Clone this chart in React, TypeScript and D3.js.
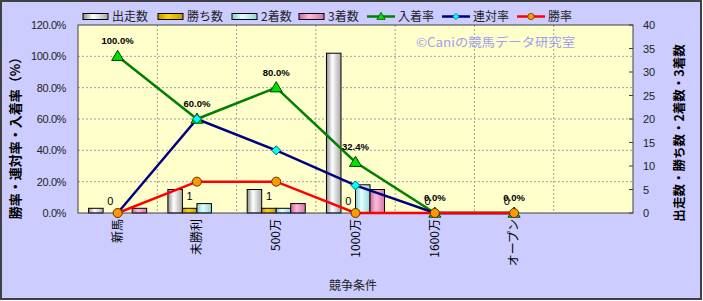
import React from "react";
import * as d3 from "d3";

const categories = ["新馬", "未勝利", "500万", "1000万", "1600万", "オープン", ""];
const starters = [1, 5, 5, 34, 0, 0];
const wins = [0, 1, 1, 0, 0, 0];
const seconds = [0, 2, 1, 6, 0, 0];
const thirds = [1, 0, 2, 5, 0, 0];
const placeRate = [100, 60, 80, 32.4, 0, 0];
const rentaiRate = [0, 60, 40, 17.6, 0, 0];
const winRate = [0, 20, 20, 0, 0, 0];
const leftTicks = [0, 20, 40, 60, 80, 100, 120];
const rightTicks = [0, 5, 10, 15, 20, 25, 30, 35, 40];
const barSeriesNames = ["出走数", "勝ち数", "2着数", "3着数"];
const lineSeriesNames = ["入着率", "連対率", "勝率"];

const W = 703, H = 301;
const X0 = 78, X1 = 633, Y0 = 25, Y1 = 213;
const FONT = "'Liberation Sans', 'Noto Sans CJK JP', sans-serif";
const JFONT = "'Noto Sans CJK JP', sans-serif";

const barGrads = [
  { id: "g0", stops: ["#8e8e8e", "#ffffff", "#a8a8a8"] },
  { id: "g1", stops: ["#c09000", "#ffd700", "#c89a00"] },
  { id: "g2", stops: ["#7fcccc", "#e6ffff", "#8fd6d6"] },
  { id: "g3", stops: ["#c86a9c", "#ffb8dc", "#d07aa8"] },
];
const lineColors = ["#008000", "#000080", "#ff0000"];
const markerFills = ["#00e000", "#00ffff", "#ff9900"];

function Marker({ type, x, y }: { type: number; x: number; y: number }) {
  if (type === 0) {
    const s = 6;
    return (
      <path
        d={`M${x},${y - s} L${x + s},${y + s * 0.7} L${x - s},${y + s * 0.7} Z`}
        fill={markerFills[0]}
        stroke="#004000"
        strokeWidth={1}
      />
    );
  }
  if (type === 1) {
    const s = 4.5;
    return (
      <path
        d={`M${x},${y - s} L${x + s},${y} L${x},${y + s} L${x - s},${y} Z`}
        fill={markerFills[1]}
        stroke="#006060"
        strokeWidth={1}
      />
    );
  }
  return <circle cx={x} cy={y} r={4.5} fill={markerFills[2]} stroke="#603000" strokeWidth={1} />;
}

export default function App() {
  const x = d3.scaleBand<number>().domain(d3.range(categories.length)).range([X0, X1]).paddingInner(0).paddingOuter(0);
  const inner = d3.scaleBand<number>().domain([0, 1, 2, 3]).range([0, x.bandwidth()]).paddingInner(0).paddingOuter(0.73);
  const yL = d3.scaleLinear().domain([0, 120]).range([Y1, Y0]);
  const yR = d3.scaleLinear().domain([0, 40]).range([Y1, Y0]);
  const cx = (i: number) => (x(i) as number) + x.bandwidth() / 2;

  const barSeries = [starters, wins, seconds, thirds];
  const lineSeries = [placeRate, rentaiRate, winRate];
  const lineGen = d3.line<number>().x((_, i) => cx(i)).y((v) => yL(v));

  const legendX = [83, 158, 232, 299, 367, 442, 517];

  return (
    <svg width={W} height={H} style={{ position: "absolute", left: 0, top: 0 }} fontFamily={FONT}>
      <defs>
        {barGrads.map((g) => (
          <linearGradient key={g.id} id={g.id} x1="0" x2="1" y1="0" y2="0">
            <stop offset="0" stopColor={g.stops[0]} />
            <stop offset="0.4" stopColor={g.stops[1]} />
            <stop offset="1" stopColor={g.stops[2]} />
          </linearGradient>
        ))}
      </defs>
      <rect x={1} y={1} width={700} height={298} fill="#ccccff" stroke="#404040" strokeWidth={2} />
      <rect x={X0} y={Y0} width={X1 - X0} height={Y1 - Y0} fill="#ffffcc" />
      {/* grid */}
      {leftTicks.slice(1, -1).map((t) => (
        <line key={"h" + t} x1={X0} x2={X1} y1={yL(t)} y2={yL(t)} stroke="#a0a0a0" strokeDasharray="2,2" />
      ))}
      {d3.range(1, categories.length).map((i) => (
        <line key={"v" + i} x1={x(i)} x2={x(i)} y1={Y0} y2={Y1} stroke="#a0a0a0" strokeDasharray="2,2" />
      ))}
      <text x={416} y={47} fontFamily={JFONT} fontSize={12.5} fill="#a0a0f0" textLength={159} lengthAdjust="spacingAndGlyphs">
        ©Caniの競馬データ研究室
      </text>
      {/* bars */}
      {barSeries.map((vals, s) =>
        vals.map((v, i) =>
          v > 0 ? (
            <rect
              key={`b${s}-${i}`}
              x={(x(i) as number) + (inner(s) as number)}
              y={yR(v)}
              width={inner.bandwidth()}
              height={Y1 - yR(v)}
              fill={`url(#${barGrads[s].id})`}
              stroke="#000"
              strokeWidth={1}
            />
          ) : null
        )
      )}
      {/* plot border */}
      <rect x={X0} y={Y0} width={X1 - X0} height={Y1 - Y0} fill="none" stroke="#404040" strokeWidth={1} />
      {rightTicks.map((t) => (
        <line key={"rt" + t} x1={X1 - 4} x2={X1} y1={yR(t)} y2={yR(t)} stroke="#404040" />
      ))}
      {/* lines */}
      {lineSeries.map((vals, s) => (
        <path key={"l" + s} d={lineGen(vals) as string} fill="none" stroke={lineColors[s]} strokeWidth={2.5} />
      ))}
      {lineSeries.map((vals, s) => vals.map((v, i) => <Marker key={`m${s}-${i}`} type={s} x={cx(i)} y={yL(v)} />))}
      {/* labels */}
      {placeRate.map((v, i) => (
        <text key={"pl" + i} x={cx(i)} y={yL(v) - 12} fontSize={9.5} fontWeight="bold" textAnchor="middle" fill="#000">
          {v.toFixed(1) + "%"}
        </text>
      ))}
      {wins.map((v, i) => (
        <text
          key={"wl" + i}
          x={(x(i) as number) + (inner(1) as number) + inner.bandwidth() / 2}
          y={yR(v) - 8}
          fontSize={11}
          textAnchor="middle"
          fill="#000"
        >
          {v}
        </text>
      ))}
      {/* axes labels */}
      {leftTicks.map((t) => (
        <text key={"lt" + t} x={66} y={yL(t) + 4} fontSize={11} letterSpacing={-0.4} textAnchor="end" fill="#222">
          {t.toFixed(1) + "%"}
        </text>
      ))}
      {rightTicks.map((t) => (
        <text key={"rl" + t} x={643} y={yR(t) + 4} fontSize={11} fill="#222">
          {t}
        </text>
      ))}
      {categories.map((c, i) => (
        <text
          key={"c" + i}
          transform={`translate(${cx(i) + 4},${Y1 + 6}) rotate(-90)`}
          fontSize={12}
          fontFamily={JFONT}
          textAnchor="end"
          fill="#000"
        >
          {c}
        </text>
      ))}
      <text x={353} y={290} fontSize={12} fontFamily={JFONT} textAnchor="middle" fill="#222">
        競争条件
      </text>
      <text
        transform={`translate(20,135) rotate(-90)`}
        fontSize={13}
        fontWeight="bold"
        fontFamily={JFONT}
        textAnchor="middle"
        fill="#000"
      >
        勝率・連対率・入着率（%）
      </text>
      <text
        transform={`translate(684,133) rotate(-90)`}
        fontSize={12.5}
        fontWeight="bold"
        fontFamily={JFONT}
        textAnchor="middle"
        fill="#000"
      >
        出走数・勝ち数・2着数・3着数
      </text>
      {/* legend */}
      {barSeriesNames.map((n, s) => (
        <g key={"lg" + s}>
          <rect x={legendX[s]} y={13.5} width={25} height={6} fill={`url(#${barGrads[s].id})`} stroke="#000" strokeWidth={1} />
          <text x={legendX[s] + 29} y={21} fontSize={12} fontFamily={JFONT} fill="#222">
            {n}
          </text>
        </g>
      ))}
      {lineSeriesNames.map((n, s) => (
        <g key={"ll" + s}>
          <line x1={legendX[4 + s]} x2={legendX[4 + s] + 28} y1={16.5} y2={16.5} stroke={lineColors[s]} strokeWidth={2.5} />
          <g transform={`translate(${legendX[4 + s] + 14},16.5) scale(0.7) translate(${-(legendX[4 + s] + 14)},-16.5)`}>
            <Marker type={s} x={legendX[4 + s] + 14} y={16.5} />
          </g>
          <text x={legendX[4 + s] + 31} y={21} fontSize={12} fontFamily={JFONT} fill="#222">
            {n}
          </text>
        </g>
      ))}
    </svg>
  );
}
